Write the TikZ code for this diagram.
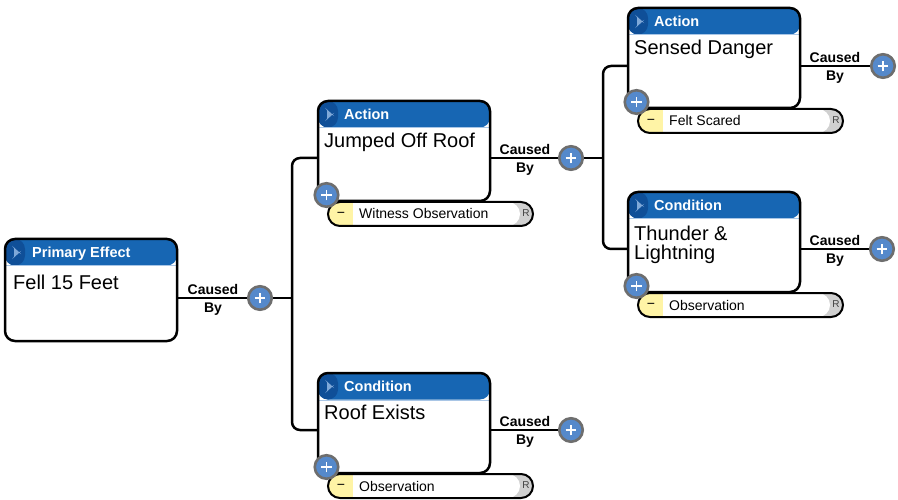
\documentclass[tikz,border=0pt]{standalone}
\usepackage{fontspec}
\setmainfont{Liberation Sans}

\definecolor{hdrblue}{HTML}{1766B3}
\definecolor{hdrdark}{HTML}{0F4F98}
\definecolor{hdrtri}{HTML}{7FA8D8}
\definecolor{hdrline}{HTML}{A9C6E6}
\definecolor{plusblue}{HTML}{5589CB}
\definecolor{plusgray}{HTML}{6E6E6E}
\definecolor{evyellow}{HTML}{FFF4A6}
\definecolor{evgray}{HTML}{D0D0D0}

% one evidence strip hanging under a cause box
\newcommand\evidencebar[2]{%
  \begin{scope}[shift={(#1.south west)}]
    \begin{scope}
      \clip[rounded corners=12pt] (10,1) rectangle (215,25);
      \fill[evgray] (10,1) rectangle (215,25);
      \fill[white, rounded corners=12pt] (0,1) rectangle (202,25);
      \fill[evyellow] (10,1) rectangle (35,25);
    \end{scope}
    \draw[line width=2pt, rounded corners=12pt] (10,1) rectangle (215,25);
    \node[evtext, anchor=center] (#1-minus) at (23,13.5) {−};
    \node[evtext] (#1-ev) at (41,18) {#2};
    \node[rtext] (#1-r) at (208,12.5) {R};
  \end{scope}%
}

\begin{document}
\begin{tikzpicture}[x=1pt, y=-1pt,
  cbox/.style={draw=black, line width=2.5pt, rounded corners=10pt, fill=white,
    minimum width=172pt, minimum height=100pt, anchor=north west,
    inner sep=0pt, outer sep=0pt,
    path picture={
      \fill[hdrblue] (path picture bounding box.north west)
        rectangle ([yshift=-26.5pt]path picture bounding box.north east);
      \fill[hdrdark] (path picture bounding box.north west)
        rectangle ([xshift=20pt,yshift=-26.5pt]path picture bounding box.north west);
      \fill[hdrtri] ([xshift=9pt,yshift=-8.5pt]path picture bounding box.north west)
        -- ++(0,10) -- ++(5.5,-5) -- cycle;
      \draw[hdrline, line width=1pt]
        ([yshift=-27pt]path picture bounding box.north west)
        -- ([yshift=-27pt]path picture bounding box.north east);
    }},
  hdrtext/.style={anchor=base west, inner sep=0pt, text=white,
    font=\fontsize{14.5}{16}\selectfont\bfseries},
  bodytext/.style={anchor=base west, inner sep=0pt, align=left,
    font=\fontsize{20}{18.5}\selectfont},
  evtext/.style={anchor=base west, inner sep=0pt,
    font=\fontsize{14}{16}\selectfont},
  rtext/.style={anchor=center, inner sep=0pt, text=black!75,
    font=\fontsize{10}{10}\selectfont},
  causedby/.style={anchor=center, inner sep=0pt, align=center,
    font=\fontsize{14}{18}\selectfont\bfseries},
  conn/.style={line width=2.5pt, draw=black},
  plusbtn/.style={circle, fill=plusblue, draw=plusgray, line width=2.6pt,
    minimum size=23.5pt, inner sep=0pt,
    path picture={
      \draw[white, line width=1.9pt]
        ([xshift=-5.3pt]path picture bounding box.center)
        -- ([xshift=5.3pt]path picture bounding box.center)
        ([yshift=-5.3pt]path picture bounding box.center)
        -- ([yshift=5.3pt]path picture bounding box.center);
    }}
]
\useasboundingbox (0,0) rectangle (898,500);

% cause boxes
\node[cbox, minimum height=102pt] (pe) at (5,239) {};
\node[cbox] (a1) at (318,101) {};
\node[cbox] (c1) at (318,373) {};
\node[cbox] (a2) at (628,8) {};
\node[cbox] (c2) at (628,192) {};

\node[hdrtext] (pe-h) at ([xshift=27pt,yshift=-18.5pt]pe.north west) {Primary Effect};
\node[hdrtext] (a1-h) at ([xshift=26pt,yshift=-18.5pt]a1.north west) {Action};
\node[hdrtext] (c1-h) at ([xshift=26pt,yshift=-18.5pt]c1.north west) {Condition};
\node[hdrtext] (a2-h) at ([xshift=26pt,yshift=-18.5pt]a2.north west) {Action};
\node[hdrtext] (c2-h) at ([xshift=26pt,yshift=-18.5pt]c2.north west) {Condition};

\node[bodytext] (pe-t) at ([xshift=8pt,yshift=-51pt]pe.north west) {Fell 15 Feet};
\node[bodytext] (a1-t) at ([xshift=6pt,yshift=-47pt]a1.north west) {Jumped Off Roof};
\node[bodytext] (c1-t) at ([xshift=6pt,yshift=-46pt]c1.north west) {Roof Exists};
\node[bodytext] (a2-t) at ([xshift=6pt,yshift=-47pt]a2.north west) {Sensed Danger};
% two-line text: the base anchor sits on the last line
\node[bodytext] (c2-t) at ([xshift=6pt,yshift=-67pt]c2.north west) {Thunder \&\\Lightning};

% evidence strips
\evidencebar{a1}{Witness Observation}
\evidencebar{c1}{Observation}
\evidencebar{a2}{Felt Scared}
\evidencebar{c2}{Observation}

% joints of the cause tree
\coordinate (pe-o) at (260,298);
\coordinate (a1-o) at (571,158);
\coordinate (c1-o) at (571,430);
\coordinate (a2-o) at (883,66);
\coordinate (c2-o) at (882,249);
\coordinate (j1) at (292,298);
\coordinate (t1top) at (292,158);
\coordinate (t1bot) at (292,430);
\coordinate (j2) at (603,158);
\coordinate (t2top) at (603,66);
\coordinate (t2bot) at (603,249);

% connectors
\draw[conn] (pe.east |- pe-o) -- (j1);
\draw[conn, rounded corners=8pt] (a1.west |- t1top) -- (t1top) -- (t1bot) -- (c1.west |- t1bot);
\draw[conn] (a1.east |- a1-o) -- (j2);
\draw[conn, rounded corners=8pt] (a2.west |- t2top) -- (t2top) -- (t2bot) -- (c2.west |- t2bot);
\draw[conn] (c1.east |- c1-o) -- (c1-o);
\draw[conn] (a2.east |- a2-o) -- (a2-o);
\draw[conn] (c2.east |- c2-o) -- (c2-o);

% "Caused By" labels
\node[causedby] (pe-cb) at (213,300) {Caused\\By};
\node[causedby] (a1-cb) at (525,160) {Caused\\By};
\node[causedby] (c1-cb) at (525,432) {Caused\\By};
\node[causedby] (a2-cb) at (835,68) {Caused\\By};
\node[causedby] (c2-cb) at (835,251) {Caused\\By};

% add buttons
\node[plusbtn] (pe-plus) at (pe-o) {};
\node[plusbtn] (a1-plus) at (a1-o) {};
\node[plusbtn] (c1-plus) at (c1-o) {};
\node[plusbtn] (a2-plus) at (a2-o) {};
\node[plusbtn] (c2-plus) at (c2-o) {};
\node[plusbtn] (a1-add) at ([xshift=8.5pt,yshift=6pt]a1.south west) {};
\node[plusbtn] (c1-add) at ([xshift=8.5pt,yshift=6pt]c1.south west) {};
\node[plusbtn] (a2-add) at ([xshift=8.5pt,yshift=6pt]a2.south west) {};
\node[plusbtn] (c2-add) at ([xshift=8.5pt,yshift=6pt]c2.south west) {};
\end{tikzpicture}
\end{document}
